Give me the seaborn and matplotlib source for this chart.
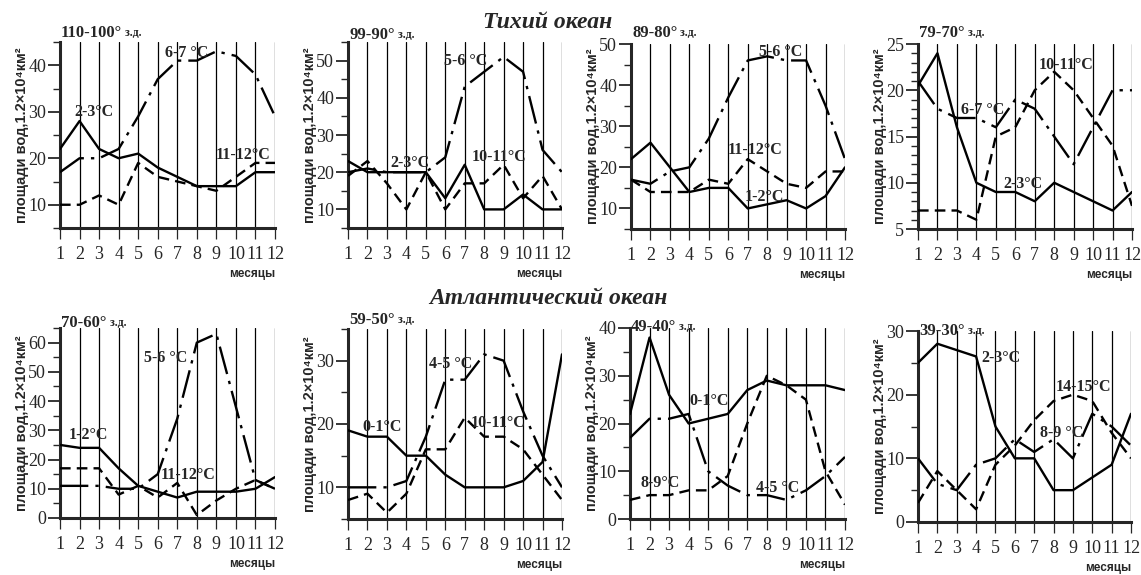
import matplotlib
matplotlib.use("Agg")
import matplotlib.pyplot as plt
from matplotlib.ticker import MultipleLocator
import pandas as pd
import seaborn as sns

# ---------------------------------------------------------------- data
months = list(range(1, 13))
month_labels = [str(m) for m in months]

ocean_titles = ["Тихий океан", "Атлантический океан"]
sector_titles = ["110-100°", "99-90°", "89-80°", "79-70°",
                 "70-60°", "59-50°", "49-40°", "39-30°"]
sector_suffix = "з.д."
y_label = "площади вод,1.2×10⁴км²"
x_label = "месяцы"

# Pacific sectors: solid / dashed / dash-dot curves
p110_solid = [22, 28, 22, 20, 21, 18, 16, 14, 14, 14, 17, 17]
p110_dashed = [10, 10, 12, 10, 19, 16, 15, 14, 13, 16, 19, 19]
p110_dashdot = [17, 20, 20, 22, 29, 37, 41, 41, 43, 42, 38, 29]
p110_names = ["2-3°C", "11-12°C", "6-7 °C"]

p99_solid = [23, 20, 20, 20, 20, 13, 22, 10, 10, 14, 10, 10]
p99_dashed = [19, 23, 17, 10, 20, 10, 17, 17, 22, 13, 19, 10]
p99_dashdot = [20, 21, 20, 20, 20, 24, 43, 47, 51, 47, 26, 20]
p99_names = ["2-3°C", "10-11°C", "5-6 °C"]

p89_solid = [22, 26, 20, 14, 15, 15, 10, 11, 12, 10, 13, 20]
p89_dashed = [17, 14, 14, 14, 17, 16, 22, 19, 16, 15, 19, 19]
p89_dashdot = [17, 16, 19, 20, 27, 37, 46, 47, 46, 46, 35, 22]
p89_names = ["1-2°C", "11-12°C", "5-6 °C"]

p79_solid = [20.5, 24, 16, 10, 9, 9, 8, 10, 9, 8, 7, 9]
p79_dashed = [7, 7, 7, 6, 15, 16, 20, 22, 20, 17, 14, 7.5]
p79_dashdot = [21, 18, 17, 17, 16, 19, 18, 15, 12, 16, 20, 20]
p79_names = ["2-3°C", "10-11°C", "6-7 °C"]

# Atlantic sectors
a70_solid = [25, 24, 24, 17, 11, 9, 7, 9, 9, 9, 10, 14]
a70_dashed = [17, 17, 17, 8, 11, 7, 12, 1, 6, 10, 13, 10]
a70_dashdot = [11, 11, 11, 10, 10, 15, 34, 60, 63, 38, 13, 10]
a70_names = ["1-2°C", "11-12°C", "5-6 °C"]

a59_solid = [19, 18, 18, 15, 15, 12, 10, 10, 10, 11, 14, 31]
a59_dashed = [8, 9, 6, 9, 16, 16, 21, 18, 18, 16, 12, 8]
a59_dashdot = [10, 10, 10, 11, 18, 27, 27, 31, 30, 22, 15, 10]
a59_names = ["0-1°C", "10-11°C", "4-5 °C"]

a49_solid = [22, 38, 26, 20, 21, 22, 27, 29, 28, 28, 28, 27]
a49_dashed = [4, 5, 5, 6, 6, 9, 20, 30, 28, 25, 10, 3]
a49_dashdot = [17, 21, 21, 22, 10, 7, 5, 5, 4, 6, 9, 13]
a49_names = ["0-1°C", "8-9°C", "4-5 °C"]

a39_solid = [25, 28, 27, 26, 15, 10, 10, 5, 5, 7, 9, 17]
a39_dashed = [3, 8, 5, 2, 9, 12, 16, 19, 20, 19, 14, 10]
a39_dashdot = [10, 6, 5, 9, 10, 13, 11, 13, 10, 17, 15, 12]
a39_names = ["2-3°C", "14-15°C", "8-9 °C"]

series = [
    (p110_solid, p110_dashed, p110_dashdot, p110_names),
    (p99_solid, p99_dashed, p99_dashdot, p99_names),
    (p89_solid, p89_dashed, p89_dashdot, p89_names),
    (p79_solid, p79_dashed, p79_dashdot, p79_names),
    (a70_solid, a70_dashed, a70_dashdot, a70_names),
    (a59_solid, a59_dashed, a59_dashdot, a59_names),
    (a49_solid, a49_dashed, a49_dashdot, a49_names),
    (a39_solid, a39_dashed, a39_dashdot, a39_names),
]

# ---------------------------------------------------------------- layout
W, H = 1141, 575
# axes boxes in pixels: left, right, top, bottom
boxes = [(60, 275, 42, 228), (348, 562, 42, 228), (631, 845, 44, 229), (918, 1132, 44, 229),
         (60, 275, 328, 518), (348, 562, 329, 519), (630, 845, 328, 519), (918, 1131, 331, 522)]
# y range, major step, minor step
yscales = [((5, 45), 10, 5), ((5, 55), 10, 5), ((5, 50), 10, 5), ((5, 25), 5, 1),
           ((0, 65), 10, 5), ((5, 35), 10, 5), ((0, 40), 10, 5), ((0, 30), 10, 5)]
# positions of the temperature annotations (solid, dashed, dash-dot)
name_pos = [
    [(2.75, 30.0), (10.35, 20.8), (7.5, 42.6)],
    [(4.2, 22.6), (8.76, 24.2), (7.07, 50.0)],
    [(7.85, 12.7), (7.4, 24.1), (8.7, 48.0)],
    [(6.4, 9.9), (8.6, 22.7), (4.3, 17.9)],
    [(2.43, 28.4), (7.55, 14.7), (6.42, 54.8)],
    [(2.75, 19.6), (8.7, 20.2), (6.3, 29.4)],
    [(5.06, 24.8), (2.54, 7.5), (8.55, 6.5)],
    [(5.3, 25.7), (9.55, 21.2), (8.4, 14.0)],
]
# sector title: vertical offset of its centre above the axes top (pixels)
title_dy = [9, 7, 11, 11, 5, 9, 1, 0]

sns.set_style("ticks")
plt.rcParams["font.family"] = ["Liberation Serif", "DejaVu Serif"]
plt.rcParams["axes.linewidth"] = 2.0

fig = plt.figure(figsize=(W / 100, H / 100), dpi=100)
fig.patch.set_facecolor("white")

dash_map = {"solid": "", "dashed": (4.5, 2.6), "dashdot": (12, 3.0, 1.4, 3.0)}
sans = ["Liberation Sans", "DejaVu Sans"]

for i, ((solid, dashed, dashdot, names), box, (ylim, major, minor), npos) in enumerate(
        zip(series, boxes, yscales, name_pos)):
    l, r, t, b = box
    ax = fig.add_axes([l / W, 1 - b / H, (r - l) / W, (b - t) / H])
    df = pd.DataFrame({
        "month": months * 3,
        "area": solid + dashed + dashdot,
        "kind": ["solid"] * 12 + ["dashed"] * 12 + ["dashdot"] * 12,
    })
    sns.lineplot(data=df, x="month", y="area", style="kind", dashes=dash_map,
                 color="black", lw=1.7, legend=False, ax=ax, sort=False, zorder=3)

    ax.set_xlim(1, 12)
    ax.set_ylim(*ylim)
    ax.set_xticks(months)
    ax.set_xticklabels(month_labels)
    ax.yaxis.set_major_locator(MultipleLocator(major))
    ax.yaxis.set_minor_locator(MultipleLocator(minor))
    ax.grid(axis="x", color="black", lw=0.9)
    ax.grid(axis="y", visible=False)
    for side in ("top", "right"):
        ax.spines[side].set_visible(False)
    ax.spines["left"].set_linewidth(2.2)
    ax.spines["bottom"].set_linewidth(2.2)
    ax.tick_params(axis="x", length=8, width=0.9, pad=5, labelsize=13)
    ax.tick_params(axis="y", which="major", length=9, width=1.3, pad=1, labelsize=13)
    ax.tick_params(axis="y", which="minor", length=5, width=1.0)

    ax.set_ylabel(y_label, family=sans, fontweight="bold", fontsize=10.5)
    ax.yaxis.set_label_coords(-0.145, 0.5)
    ax.set_xlabel(x_label, family=sans, fontweight="bold", fontsize=8.5, ha="right", va="center")
    ax.xaxis.set_label_coords(1.0, -46 / (b - t))

    for name, (xx, yy) in zip(names, npos):
        ax.text(xx, yy, name, ha="center", va="center", fontsize=11.5,
                fontweight="bold", zorder=4)

    ty = 1 + title_dy[i] / (b - t)
    t1 = ax.text(0.005, ty, sector_titles[i], transform=ax.transAxes, ha="left",
                 va="center", fontsize=12, fontweight="bold")
    ax.annotate(" " + sector_suffix, xy=(1, 0.12), xycoords=t1, ha="left", va="bottom",
                fontsize=8.5, fontweight="bold")

fig.text(548 / W, 1 - 22 / H, ocean_titles[0], ha="center", va="center",
         fontsize=17, fontweight="bold", style="italic")
fig.text(548 / W, 1 - 298 / H, ocean_titles[1], ha="center", va="center",
         fontsize=17, fontweight="bold", style="italic")

fig.savefig("out.png", dpi=100, facecolor="white")
